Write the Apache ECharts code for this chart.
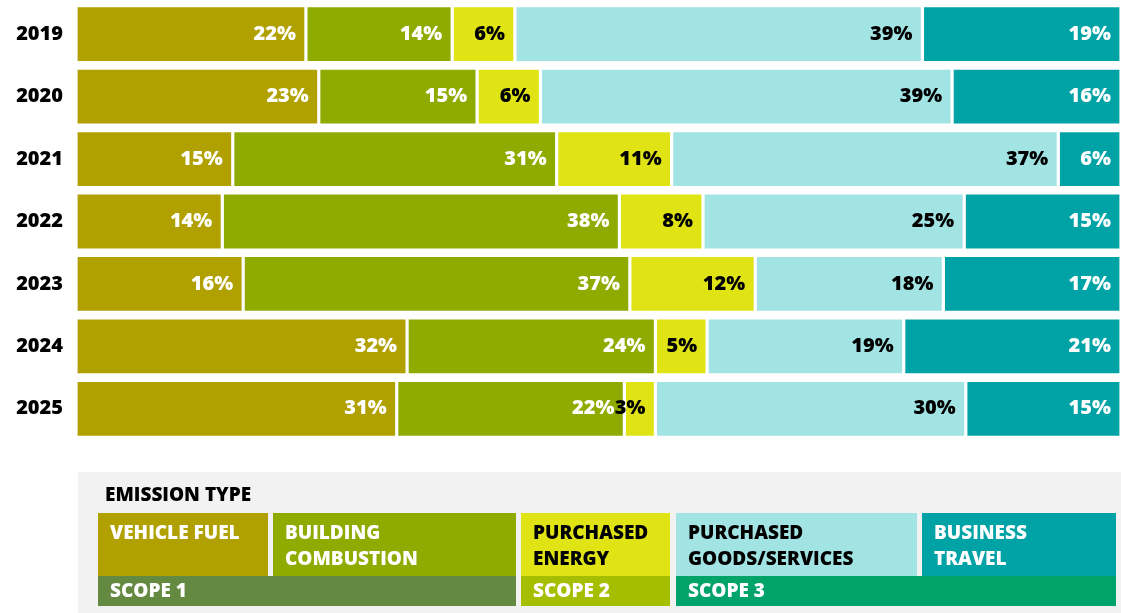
<!DOCTYPE html>
<html>
<head>
<meta charset="utf-8">
<script src="https://cdn.jsdelivr.net/npm/echarts@6/dist/echarts.min.js"></script>
<style>html,body{margin:0;padding:0;background:#fff}#c{width:1121px;height:613px}</style>
</head>
<body>
<div id="c"></div>
<script>
const years = ['2019','2020','2021','2022','2023','2024','2025'];
const vehicleFuel = [22,23,15,14,16,32,31];
const buildingCombustion = [14,15,31,38,37,24,22];
const purchasedEnergy = [6,6,11,8,12,5,3];
const purchasedGoods = [39,39,37,25,18,19,30];
const businessTravel = [19,16,6,15,17,21,15];

const seriesDefs = [
  {name:'Vehicle fuel', data:vehicleFuel, color:'#b0a000', text:'#ffffff'},
  {name:'Building combustion', data:buildingCombustion, color:'#8fab00', text:'#ffffff'},
  {name:'Purchased energy', data:purchasedEnergy, color:'#e0e314', text:'#000000'},
  {name:'Purchased goods/services', data:purchasedGoods, color:'#a2e3e4', text:'#000000'},
  {name:'Business travel', data:businessTravel, color:'#00a3a5', text:'#ffffff'}
];
const rowSum = years.map((y,i)=>seriesDefs.reduce((s,d)=>s+d.data[i],0));
const FONT = '"Open Sans", Lato, "DejaVu Sans", sans-serif';

const chart = echarts.init(document.getElementById('c'));
const series = seriesDefs.map(d=>({
  name:d.name, type:'bar', stack:'total', barWidth:57,
  data:d.data.map((v,i)=>({value:v/rowSum[i]*100, raw:v})),
  itemStyle:{color:d.color, borderColor:'#ffffff', borderWidth:1.6},
  label:{show:true, position:'insideRight', distance:10, color:d.text,
    fontFamily:FONT, fontWeight:800, fontSize:20,
    formatter:p=>p.data.raw+'%'},
  emphasis:{disabled:true}, silent:true
}));

const g = [];
g.push({type:'rect', shape:{x:78,y:472,width:1043,height:141}, style:{fill:'#f2f2f2'}});
g.push({type:'text', x:105, y:496, style:{text:'EMISSION TYPE', fill:'#000', font:'800 19px '+FONT, verticalAlign:'middle'}});
const boxes = [
  {x:98,w:170,c:'#b0a000',t:'VEHICLE FUEL',f:'#fff'},
  {x:273,w:243,c:'#8fab00',t:'BUILDING\nCOMBUSTION',f:'#fff'},
  {x:521,w:149,c:'#e0e314',t:'PURCHASED\nENERGY',f:'#000'},
  {x:676,w:241,c:'#a2e3e4',t:'PURCHASED\nGOODS/SERVICES',f:'#000'},
  {x:922,w:194,c:'#00a3a5',t:'BUSINESS\nTRAVEL',f:'#fff'}
];
boxes.forEach(b=>{
  g.push({type:'rect', shape:{x:b.x,y:513,width:b.w,height:63}, style:{fill:b.c}});
  g.push({type:'text', x:b.x+12, y:521, style:{text:b.t, fill:b.f, font:'800 19px '+FONT, lineHeight:26, verticalAlign:'top'}});
});
const scopes = [
  {x:98,w:418,c:'#648a42',t:'SCOPE 1'},
  {x:521,w:149,c:'#a6be00',t:'SCOPE 2'},
  {x:676,w:440,c:'#00a36a',t:'SCOPE 3'}
];
scopes.forEach(s=>{
  g.push({type:'rect', shape:{x:s.x,y:576,width:s.w,height:30}, style:{fill:s.c}});
  g.push({type:'text', x:s.x+12, y:592, style:{text:s.t, fill:'#fff', font:'800 19px '+FONT, verticalAlign:'middle'}});
});

chart.setOption({
  animation:false,
  grid:{left:76, right:-1, top:3, bottom:173},
  xAxis:{type:'value', min:0, max:100, show:false},
  yAxis:{type:'category', data:years, inverse:true,
    axisLine:{show:false}, axisTick:{show:false},
    axisLabel:{color:'#000', fontFamily:FONT, fontWeight:800, fontSize:20, margin:13}},
  series:series,
  graphic:g
});
</script>
</body>
</html>
